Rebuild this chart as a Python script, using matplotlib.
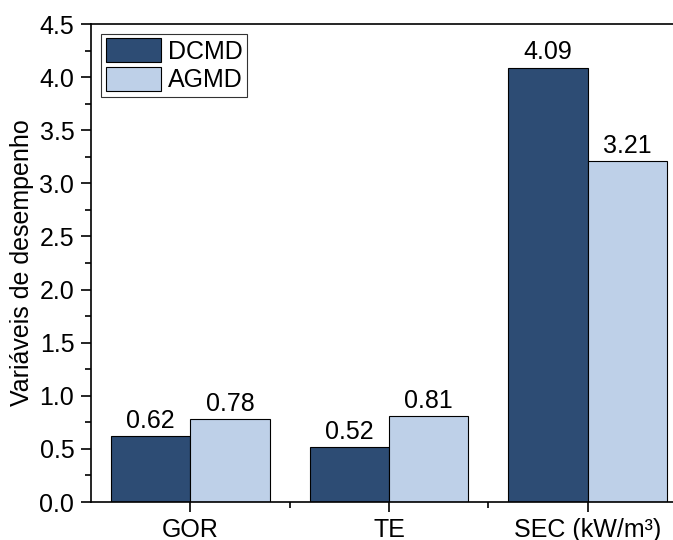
import matplotlib
matplotlib.use("Agg")
import matplotlib.pyplot as plt
import numpy as np
from matplotlib.ticker import MultipleLocator, FixedLocator, FormatStrFormatter

plt.rcParams['font.family'] = ['Liberation Sans', 'DejaVu Sans']

categories = ["GOR", "TE", "SEC (kW/m³)"]
dcmd = [0.62, 0.52, 4.09]
agmd = [0.78, 0.81, 3.21]
series_names = ["DCMD", "AGMD"]
colors = ["#2d4c74", "#bed0e8"]

FS = 18
fig = plt.figure(figsize=(6.73, 5.40), dpi=100)
ax = fig.add_axes([91/673, 1-502/540, (687-91)/673, (502-24)/540])

x = np.arange(len(categories))
w = 0.4
b1 = ax.bar(x - w/2, dcmd, w, color=colors[0], edgecolor='black', linewidth=0.8, label=series_names[0])
b2 = ax.bar(x + w/2, agmd, w, color=colors[1], edgecolor='black', linewidth=0.8, label=series_names[1])
for bars, vals in ((b1, dcmd), (b2, agmd)):
    for r, v in zip(bars, vals):
        ax.text(r.get_x() + r.get_width()/2, v + 0.03, f"{v:.2f}", ha='center', va='bottom', fontsize=FS)

ax.set_xlim(-0.5, 2.5)
ax.set_ylim(0, 4.5)
ax.set_xticks(x)
ax.set_xticklabels(categories, fontsize=FS)
ax.xaxis.set_minor_locator(FixedLocator([0.5, 1.5]))
ax.yaxis.set_major_locator(MultipleLocator(0.5))
ax.yaxis.set_minor_locator(MultipleLocator(0.25))
ax.yaxis.set_major_formatter(FormatStrFormatter('%.1f'))
ax.tick_params(axis='both', which='major', direction='out', length=7, width=1.2, labelsize=FS, pad=5)
ax.tick_params(axis='x', which='major', pad=4.5)
ax.tick_params(axis='both', which='minor', direction='out', length=4, width=1.2)
for s in ax.spines.values():
    s.set_linewidth(1.2)
ax.set_ylabel("Variáveis de desempenho", fontsize=FS, labelpad=4)

leg = ax.legend(loc='upper left', fontsize=FS, frameon=True, fancybox=False, edgecolor='black',
                handlelength=2.2, handleheight=1.08, borderpad=0.18, labelspacing=0.12,
                handletextpad=0.3, borderaxespad=0.4)
leg.get_frame().set_linewidth(0.8)

fig.savefig("out.png", dpi=100)
